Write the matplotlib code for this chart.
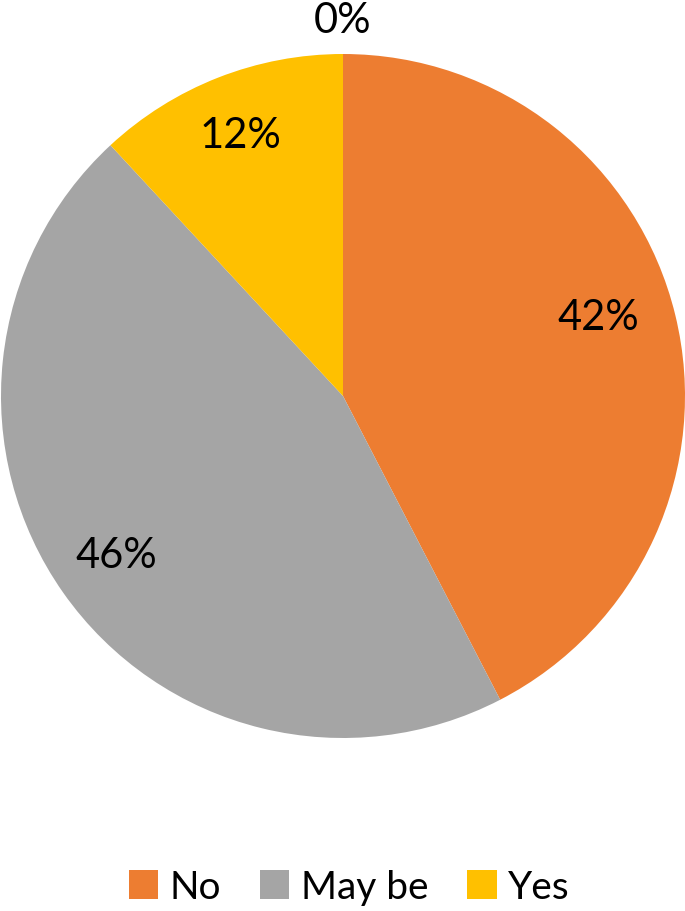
import numpy as np
import matplotlib.pyplot as plt

plt.rcParams['font.family'] = ['Lato', 'DejaVu Sans']

categories = ['No', 'May be', 'Yes', '']
values = [42.4, 45.7, 11.9, 0.0]
colors = ['#ED7D31', '#A5A5A5', '#FFC000', '#4472C4']

# label placement: fraction of radius and angle nudge (deg), like Excel's best fit
label_dist = [0.78, 0.81, 0.82, 1.10]
label_nudge = [3.5, 0, 0, 0]

fig = plt.figure(figsize=(6.85, 9.12), dpi=100)
ax = fig.add_axes([1 / 685, 173 / 912, 684 / 685, 684 / 912])

wedges, _ = ax.pie(values, colors=colors, startangle=90, counterclock=False,
                   wedgeprops=dict(linewidth=0))
ax.set_aspect('equal')
ax.set_xlim(-1, 1)
ax.set_ylim(-1, 1)

for w, v, d, n in zip(wedges, values, label_dist, label_nudge):
    ang = np.deg2rad((w.theta1 + w.theta2) / 2 + n)
    ax.text(d * np.cos(ang), d * np.sin(ang), '%.0f%%' % v, clip_on=False,
            ha='center', va='center', fontsize=30, color='black')

leg = ax.legend(wedges[:3], categories[:3], loc='center', ncol=3, frameon=False,
                fontsize=28, handlelength=0.75, handleheight=0.75,
                handletextpad=0.3, columnspacing=1.0,
                bbox_to_anchor=(0.51, 1 - 888 / 912), bbox_transform=fig.transFigure)

fig.savefig('out.png', dpi=100)
